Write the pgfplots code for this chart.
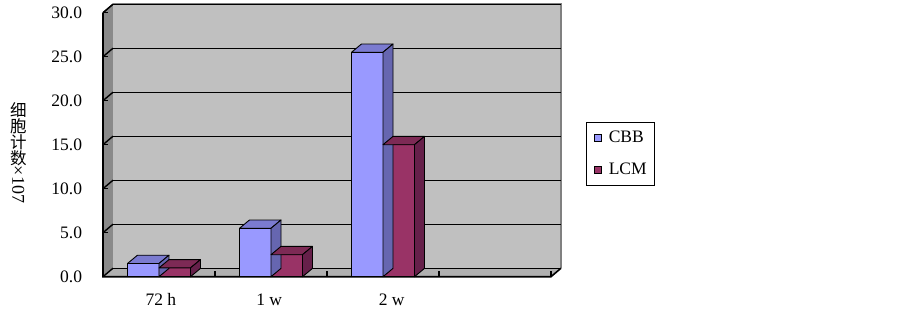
\documentclass[border=0pt]{standalone}
\usepackage{fontspec}
\setmainfont{Liberation Serif}
\newfontfamily\cjk{Noto Sans CJK SC}
\usepackage{pgfplots}
\pgfplotsset{compat=1.18}
\definecolor{wallc}{HTML}{C0C0C0}
\definecolor{sidec}{HTML}{8A8A8A}
\definecolor{floorc}{HTML}{B0B0B0}
\definecolor{edgec}{HTML}{808080}
\definecolor{cbbF}{HTML}{9999FF}
\definecolor{cbbT}{HTML}{7B7BD0}
\definecolor{cbbS}{HTML}{6666B0}
\definecolor{lcmF}{HTML}{993366}
\definecolor{lcmT}{HTML}{7D2A55}
\definecolor{lcmS}{HTML}{66204A}
\pgfdeclareplotmark{blank}{}
\pgfplotsset{
  faces/.style n args={3}{
    scatter, only marks, mark=blank, forget plot,
    visualization depends on={rawy \as \ry},
    scatter/@pre marker code/.code={
      \filldraw[fill=#2,draw=black,line width=0.9pt,line join=round]
        (#1-15.75pt,0pt) -- (#1+15.75pt,0pt) -- (#1+25.75pt,8.3pt) -- (#1-5.75pt,8.3pt) -- cycle;
      \filldraw[fill=#3,draw=black,line width=0.9pt,line join=round]
        (#1+15.75pt,0pt) -- (#1+25.75pt,8.3pt) -- (#1+25.75pt,8.3pt-\ry*8.8pt) -- (#1+15.75pt,-\ry*8.8pt) -- cycle;
    },
    scatter/@post marker code/.code={},
  },
}
\begin{document}
\begin{tikzpicture}
\useasboundingbox (0,0) rectangle (903pt,311pt);
\begin{axis}[
  at={(103pt,34.3pt)}, anchor=south west,
  scale only axis, width=448pt, height=264pt,
  xmin=-0.5, xmax=3.5, ymin=0, ymax=30, enlargelimits=false, clip=false,
  axis line style={draw=none}, tick style={draw=none},
  xtick={0.017,0.984,2.078}, xticklabels={72 h,1 w,2 w},
  ytick={0,5,...,30},
  /pgf/number format/assume math mode=true,
  tick label style={font=\fontsize{17.5}{20}\selectfont},
  yticklabel style={/pgf/number format/.cd, fixed, fixed zerofill, precision=1, /tikz/.cd, anchor=east, inner sep=0pt, xshift=-20.7pt},
  xticklabel style={anchor=base, inner sep=0pt, yshift=-28.8pt},
  legend style={at={(1.0781,0.5871)}, anchor=north west, draw=black, line width=1.2pt, fill=white,
    font=\fontsize{17.5}{20}\selectfont, inner xsep=7.5pt, inner ysep=9pt, row sep=19pt, column sep=7.4pt,
    nodes={inner sep=0pt}},
  legend cell align=left,
]
% back wall
\fill[wallc] ([xshift=10pt,yshift=8.5pt]axis cs:-0.5,0) rectangle ([xshift=10pt,yshift=8.5pt]axis cs:3.5,30);
% side wall
\fill[sidec] (axis cs:-0.5,0) -- ([xshift=10pt,yshift=8.5pt]axis cs:-0.5,0) -- ([xshift=10pt,yshift=8.5pt]axis cs:-0.5,30) -- (axis cs:-0.5,30) -- cycle;
% floor
\fill[floorc] (axis cs:-0.5,0) -- (axis cs:3.5,0) -- ([xshift=10pt,yshift=8.5pt]axis cs:3.5,0) -- ([xshift=10pt,yshift=8.5pt]axis cs:-0.5,0) -- cycle;
% wall outline
\draw[edgec,line width=1.5pt] ([xshift=10pt,yshift=8.5pt]axis cs:-0.5,30) -- ([xshift=10pt,yshift=8.5pt]axis cs:3.5,30) -- ([xshift=10pt,yshift=8.5pt]axis cs:3.5,0);
% grid lines
\pgfplotsinvokeforeach{0,5,10,15,20,25,30}{
  \draw[black,line width=1.4pt] ([xshift=10pt,yshift=8.5pt]axis cs:-0.5,#1) -- ([xshift=10pt,yshift=8.5pt]axis cs:3.5,#1);
  \draw[black,line width=1.4pt] (axis cs:-0.5,#1) -- ([xshift=10pt,yshift=8.5pt]axis cs:-0.5,#1);
  \draw[black,line width=1.4pt] (axis cs:-0.5,#1) -- ([xshift=5pt]axis cs:-0.5,#1);
}
% floor ticks
\pgfplotsinvokeforeach{0.5,1.5,2.5,3.5}{
  \draw[black,line width=1.2pt] (axis cs:#1,0) -- ([yshift=6pt]axis cs:#1,0);
}
% front edges
\draw[black,line width=1.6pt] (axis cs:-0.5,30) -- (axis cs:-0.5,0) -- (axis cs:3.5,0) -- ([xshift=10pt,yshift=8.5pt]axis cs:3.5,0);
\draw[black,line width=1.2pt] (axis cs:-0.5,30) -- ([xshift=10pt,yshift=8.5pt]axis cs:-0.5,30);

\addplot[ybar, bar width=31.5pt, bar shift=-15.75pt, fill=cbbF, draw=black, line width=0.9pt,
  legend image code/.code={\draw[fill=cbbF,draw=black,line width=0.6pt] (0pt,-3.35pt) rectangle (6.7pt,3.35pt);}]
  coordinates {(0,1.5) (1,5.5) (2,25.5)};
\addlegendentry{CBB}
\addplot[faces={-15.75pt}{cbbT}{cbbS}] coordinates {(0,1.5) (1,5.5) (2,25.5)};
\addplot[ybar, bar width=31.5pt, bar shift=15.75pt, fill=lcmF, draw=black, line width=0.9pt,
  legend image code/.code={\draw[fill=lcmF,draw=black,line width=0.6pt] (0pt,-3.35pt) rectangle (6.7pt,3.35pt);}]
  coordinates {(0,1.0) (1,2.5) (2,15.0)};
\addlegendentry{LCM}
\addplot[faces={15.75pt}{lcmT}{lcmS}] coordinates {(0,1.0) (1,2.5) (2,15.0)};
\end{axis}
\node[anchor=north, inner sep=0pt, align=center, font=\cjk\fontsize{16.5}{16}\selectfont] at (18.3pt,209pt) {细\\胞\\计\\数};
\node[anchor=west, rotate=-90, inner sep=0pt, font=\fontsize{18}{20}\selectfont] at (18.3pt,145.3pt) {×107};
\end{tikzpicture}
\end{document}
